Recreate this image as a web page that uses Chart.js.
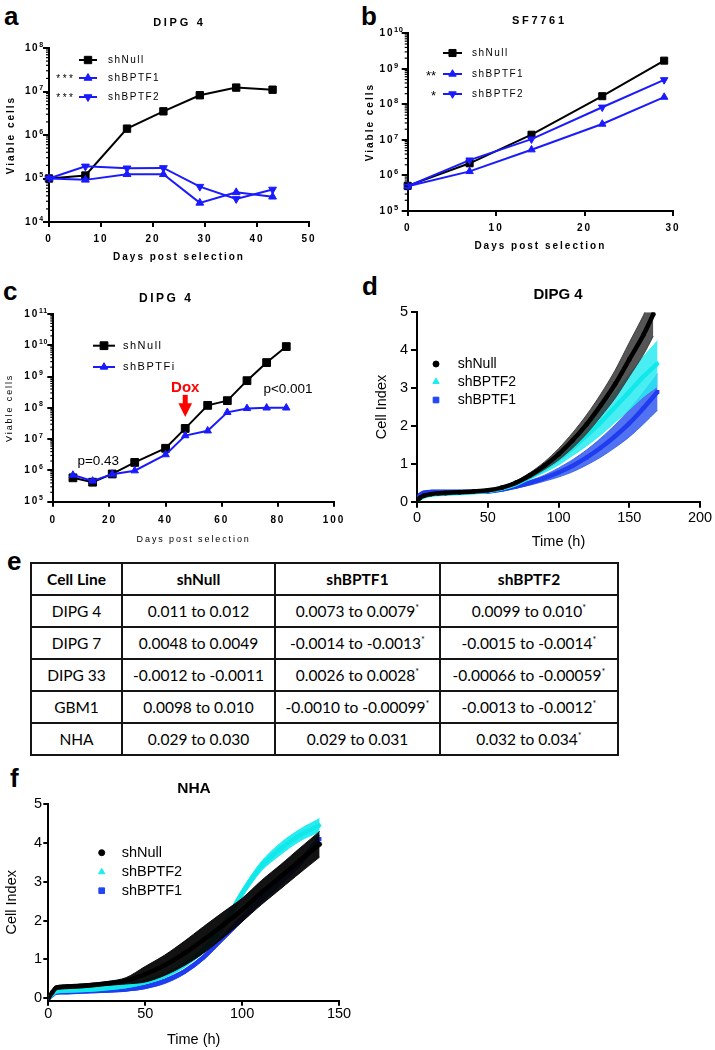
<!DOCTYPE html>
<html><head><meta charset="utf-8">
<script src="https://cdn.jsdelivr.net/npm/chart.js@4.4.1/dist/chart.umd.min.js"></script>
<style>
html,body{margin:0;padding:0;background:#fff;}
body{width:715px;height:1050px;position:relative;overflow:hidden;font-family:"Liberation Sans",Arial,sans-serif;}
canvas{position:absolute;}
.lbl{position:absolute;font:bold 26px "Liberation Sans",Arial,sans-serif;line-height:26px;color:#000;}
#tbl{position:absolute;left:30px;top:562px;border-collapse:collapse;font-family:Lato,"Liberation Sans",sans-serif;font-size:15.5px;color:#000;table-layout:fixed;}
#tbl td,#tbl th{border:2px solid #151515;text-align:center;padding:0;height:30px;white-space:nowrap;}
#tbl th{font-weight:bold;}
#tbl sup{font-size:9px;vertical-align:6px;line-height:0;}
</style></head><body>
<div class="lbl" style="left:4px;top:3px">a</div>
<div class="lbl" style="left:361px;top:3px">b</div>
<div class="lbl" style="left:3px;top:278px">c</div>
<div class="lbl" style="left:362px;top:273px">d</div>
<div class="lbl" style="left:7px;top:548px">e</div>
<div class="lbl" style="left:10px;top:765px">f</div>

<canvas id="ca" width="355" height="275" style="left:0px;top:0px"></canvas>
<canvas id="cb" width="355" height="270" style="left:360px;top:0px"></canvas>
<canvas id="cc" width="355" height="275" style="left:0px;top:280px"></canvas>
<canvas id="cd" width="355" height="275" style="left:360px;top:280px"></canvas>
<canvas id="cf" width="355" height="270" style="left:0px;top:780px"></canvas>
<table id="tbl"></table>

<script>
// ---------------- DATA ----------------
// Panel a: DIPG 4
const aDays = [0, 7, 15, 22, 29, 36, 43];
const aShNull = [1.0e5, 1.17e5, 1.4e6, 3.5e6, 8.2e6, 1.23e7, 1.1e7];
const aShBPTF1 = [1.0e5, 0.93e5, 1.25e5, 1.25e5, 2.75e4, 4.8e4, 3.8e4];
const aShBPTF2 = [1.0e5, 1.9e5, 1.72e5, 1.75e5, 6.5e4, 3.4e4, 5.6e4];
const aXTicks = [0, 10, 20, 30, 40, 50];
const aYExp = [4, 5, 6, 7, 8];

// Panel b: SF7761
const bDays = [0, 7, 14, 22, 29];
const bShNull = [5.1e5, 2.2e6, 1.4e7, 1.7e8, 1.7e9];
const bShBPTF1 = [5.0e5, 1.3e6, 5.3e6, 2.8e7, 1.6e8];
const bShBPTF2 = [5.0e5, 2.7e6, 1.05e7, 8.3e7, 4.9e8];
const bXTicks = [0, 10, 20, 30];
const bYExp = [5, 6, 7, 8, 9, 10];

// Panel c: DIPG 4 (inducible)
const cDays = [7, 14, 21, 29, 40, 47, 55, 62, 69, 76, 83];
const cShNull = [5.8e5, 4.2e5, 7.7e5, 1.8e6, 5.1e6, 2.2e7, 1.2e8, 1.7e8, 7.4e8, 2.8e9, 9.1e9];
const cShBPTFi = [7.1e5, 4.6e5, 7.6e5, 9.8e5, 3.2e6, 1.3e7, 1.85e7, 7.2e7, 9.6e7, 1.0e8, 1.0e8];
const cXTicks = [0, 20, 40, 60, 80, 100];
const cYExp = [5, 6, 7, 8, 9, 10, 11];
const cDox = {day: 47, textY: 4.3e8, arrowTop: 2.6e8, headBase: 1.4e8, tip: 5.1e7};
const cPEarly = {day: 16, y: 2.0e6, text: 'p=0.43'};
const cPLate = {day: 83.6, y: 4.0e8, text: 'p<0.001'};

// Panel d: DIPG 4 cell index (mean and error)
const dTimeNull = [0, 2, 5, 10, 15, 20, 30, 40, 50, 60, 70, 80, 90, 100, 110, 120, 130, 140, 150, 160, 167];
const dShNull = [0, 0.10, 0.16, 0.20, 0.22, 0.23, 0.25, 0.27, 0.30, 0.37, 0.50, 0.70, 0.95, 1.25, 1.62, 2.05, 2.55, 3.10, 3.75, 4.40, 4.95];
const dShNullErr = [0, 0.02, 0.02, 0.02, 0.02, 0.02, 0.02, 0.02, 0.02, 0.03, 0.05, 0.07, 0.10, 0.15, 0.20, 0.25, 0.30, 0.37, 0.45, 0.52, 0.58];
const dTime = [0, 2, 5, 10, 15, 20, 30, 40, 50, 60, 70, 80, 90, 100, 110, 120, 130, 140, 150, 160, 170];
const dShBPTF2 = [0, 0.08, 0.14, 0.18, 0.20, 0.21, 0.23, 0.25, 0.28, 0.35, 0.47, 0.65, 0.87, 1.12, 1.42, 1.75, 2.10, 2.50, 2.90, 3.30, 3.65];
const dShBPTF2Err = [0, 0.03, 0.03, 0.03, 0.03, 0.03, 0.03, 0.03, 0.04, 0.04, 0.05, 0.05, 0.10, 0.15, 0.20, 0.27, 0.33, 0.40, 0.47, 0.53, 0.60];
const dShBPTF1 = [0.02, 0.18, 0.24, 0.26, 0.26, 0.26, 0.26, 0.26, 0.27, 0.32, 0.40, 0.50, 0.62, 0.77, 0.95, 1.17, 1.43, 1.73, 2.07, 2.47, 2.90];
const dShBPTF1Err = [0.02, 0.04, 0.04, 0.04, 0.04, 0.04, 0.04, 0.04, 0.04, 0.04, 0.04, 0.06, 0.08, 0.12, 0.16, 0.20, 0.25, 0.30, 0.36, 0.42, 0.48];
const dXTicks = [0, 50, 100, 150, 200];
const dYTicks = [0, 1, 2, 3, 4, 5];

// Panel f: NHA cell index
const fTime = [0, 2, 4, 10, 20, 30, 40, 50, 60, 70, 80, 90, 100, 110, 120, 130, 140];
const fShNull = [0, 0.15, 0.27, 0.30, 0.33, 0.38, 0.45, 0.62, 0.85, 1.15, 1.50, 1.88, 2.27, 2.72, 3.13, 3.55, 3.96];
const fShNullErr = [0, 0.04, 0.05, 0.05, 0.05, 0.05, 0.08, 0.20, 0.26, 0.31, 0.34, 0.33, 0.30, 0.31, 0.31, 0.32, 0.33];
const fShBPTF2 = [0, 0.10, 0.18, 0.20, 0.22, 0.26, 0.32, 0.42, 0.58, 0.85, 1.25, 1.85, 2.70, 3.40, 3.85, 4.20, 4.45];
const fShBPTF2Err = [0, 0.03, 0.04, 0.04, 0.04, 0.04, 0.05, 0.05, 0.05, 0.05, 0.08, 0.10, 0.10, 0.12, 0.15, 0.15, 0.17];
const fShBPTF1 = [0, 0.08, 0.15, 0.16, 0.18, 0.20, 0.23, 0.30, 0.44, 0.68, 1.05, 1.55, 2.05, 2.55, 3.00, 3.50, 4.10];
const fShBPTF1Err = [0, 0.03, 0.04, 0.04, 0.04, 0.04, 0.04, 0.05, 0.06, 0.06, 0.06, 0.07, 0.08, 0.08, 0.09, 0.10, 0.10];
const fXTicks = [0, 50, 100, 150];
const fYTicks = [0, 1, 2, 3, 4, 5];

// Panel e: table
const tHeader = ['Cell Line', 'shNull', 'shBPTF1', 'shBPTF2'];
const tCellLines = ['DIPG 4', 'DIPG 7', 'DIPG 33', 'GBM1', 'NHA'];
const tShNull = ['0.011 to 0.012', '0.0048 to 0.0049', '-0.0012 to -0.0011', '0.0098 to 0.010', '0.029 to 0.030'];
const tShBPTF1 = ['0.0073 to 0.0079*', '-0.0014 to -0.0013*', '0.0026 to 0.0028*', '-0.0010 to -0.00099*', '0.029 to 0.031'];
const tShBPTF2 = ['0.0099 to 0.010*', '-0.0015 to -0.0014*', '-0.00066 to -0.00059*', '-0.0013 to -0.0012*', '0.032 to 0.034*'];

// ---------------- HELPERS ----------------
const FONT = "'Liberation Sans', Arial, Helvetica, sans-serif";
Chart.defaults.font.family = FONT;
Chart.defaults.color = '#000';
Chart.defaults.animation = false;
Chart.defaults.plugins.legend.display = false;
Chart.defaults.plugins.tooltip.enabled = false;
const BLUE = '#1a1aff';
const CYAN = '#19eef0';
const DBLUE = '#2246f2';

function xy(xs, ys) { return xs.map((x, i) => ({x: x, y: ys[i]})); }
function add(a, b, s) { return a.map((v, i) => v + s * b[i]); }

function marker(ctx, style, x, y, r, color) {
  ctx.save();
  ctx.fillStyle = color; ctx.strokeStyle = color; ctx.lineWidth = 1;
  ctx.beginPath();
  if (style === 'rect') { const h = r * Math.SQRT1_2; ctx.rect(x - h, y - h, 2 * h, 2 * h); }
  else if (style === 'circle') { ctx.arc(x, y, r, 0, Math.PI * 2); }
  else {
    let rad = style === 'triangleDown' ? Math.PI : 0;
    for (let k = 0; k < 3; k++) {
      const px = x + Math.sin(rad) * r, py = y - Math.cos(rad) * r;
      if (k === 0) ctx.moveTo(px, py); else ctx.lineTo(px, py);
      rad += 2 * Math.PI / 3;
    }
  }
  ctx.closePath(); ctx.fill(); ctx.stroke();
  ctx.restore();
}

function text(ctx, str, x, y, font, align, sp, color) {
  ctx.save();
  ctx.font = font; ctx.fillStyle = color || '#000';
  ctx.textAlign = align || 'left'; ctx.textBaseline = 'middle';
  ctx.letterSpacing = (sp || 0) + 'px';
  let dx = 0;
  if (sp && align === 'center') dx = sp / 2;
  if (sp && align === 'right') dx = sp;
  ctx.fillText(str, x + dx, y);
  ctx.restore();
}

function logLabels(chart, exps, o) {
  const ctx = chart.ctx, s = chart.scales.y;
  ctx.save();
  for (const n of exps) {
    const y = s.getPixelForValue(Math.pow(10, n));
    text(ctx, '10', o.baseRight, y, 'bold ' + o.size + 'px ' + FONT, 'right', o.sp);
    text(ctx, String(n), o.baseRight + o.gap, y - o.raise, 'bold ' + o.sup + 'px ' + FONT, 'left', 0.6);
  }
  ctx.strokeStyle = '#000'; ctx.lineWidth = 1.2;
  for (let i = 0; i < exps.length - 1; i++) {
    for (let k = 2; k <= 9; k++) {
      const y = s.getPixelForValue(k * Math.pow(10, exps[i]));
      ctx.beginPath(); ctx.moveTo(s.right - o.minor, y); ctx.lineTo(s.right, y); ctx.stroke();
    }
  }
  ctx.restore();
}

function lineLegend(ctx, items, o) {
  items.forEach((it, i) => {
    const y = o.rows[i];
    ctx.save();
    ctx.strokeStyle = it.color; ctx.lineWidth = 2;
    ctx.beginPath(); ctx.moveTo(o.x0, y); ctx.lineTo(o.x1, y); ctx.stroke();
    ctx.restore();
    marker(ctx, it.style, (o.x0 + o.x1) / 2, y, it.r, it.color);
    text(ctx, it.label, o.tx, y, o.font, 'left', o.sp);
    if (it.star) text(ctx, it.star, o.starRight, y + (o.starDy || 0), o.starFont, 'right', o.starSp);
  });
}

function pointLegend(ctx, items, o) {
  items.forEach((it, i) => {
    const y = o.rows[i];
    marker(ctx, it.style, o.mx, y, it.r, it.color);
    text(ctx, it.label, o.tx, y, o.font, 'left', 0);
  });
}

const spacingPlugin = {
  id: 'spacing',
  beforeDraw(chart) {
    const p = chart.options.plugins.spacing;
    chart.ctx.letterSpacing = ((p && p.px) || 0) + 'px';
  }
};

function geom(cv, area) {
  return {
    pad: {left: 0, top: area.t - cv.y, right: cv.x + cv.w - area.r, bottom: 0},
    yw: area.l - cv.x,
    xh: cv.y + cv.h - area.b
  };
}

function fixedTicks(list) { return function (s) { s.ticks = list.map(v => ({value: v})); }; }

function axisCommon(width, tl) {
  return {
    grid: {drawOnChartArea: false, drawTicks: true, tickLength: tl, color: '#000', lineWidth: width},
    border: {display: true, color: '#000', width: width}
  };
}

// --------------- LOG CHART (a, b, c) ---------------
function logChart(id, cvBox, area, cfg) {
  const g = geom(cvBox, area);
  return new Chart(document.getElementById(id), {
    type: 'line',
    data: {datasets: cfg.datasets},
    options: {
      responsive: false,
      layout: {padding: g.pad, autoPadding: false},
      plugins: {spacing: {px: cfg.sp}},
      scales: {
        x: Object.assign({
          type: 'linear', min: cfg.xTicks[0], max: cfg.xTicks[cfg.xTicks.length - 1],
          afterBuildTicks: fixedTicks(cfg.xTicks),
          afterFit: s => { s.height = g.xh; },
          ticks: {autoSkip: false, maxRotation: 0, padding: cfg.xPad, font: {size: 10, weight: 'bold'}},
          title: {display: true, text: 'Days post selection', padding: {top: 0, bottom: cfg.xTitlePad},
            font: cfg.xTitleFont}
        }, axisCommon(2, 5)),
        y: Object.assign({
          type: 'logarithmic', min: Math.pow(10, cfg.yExp[0]), max: Math.pow(10, cfg.yExp[cfg.yExp.length - 1]),
          afterBuildTicks: fixedTicks(cfg.yExp.map(n => Math.pow(10, n))),
          afterFit: s => { s.width = g.yw; },
          ticks: {display: false},
          title: {display: true, text: 'Viable cells', padding: {top: cfg.yTitlePad, bottom: 0},
            font: cfg.yTitleFont}
        }, axisCommon(2, 6))
      }
    },
    plugins: [spacingPlugin, {id: 'extra_' + id, afterDraw: cfg.extra}]
  });
}

function logSeries(label, xs, ys, color, style, r) {
  return {
    label: label, data: xy(xs, ys), borderColor: color, backgroundColor: color,
    borderWidth: 2, pointStyle: 'triangle', pointRotation: style === 'triangleDown' ? 180 : 0,
    pointRadius: r, pointBorderWidth: 1, pointBackgroundColor: color, pointBorderColor: color,
    tension: 0, clip: false, ...(style === 'rect' ? {pointStyle: 'rect'} : {})
  };
}

// Panel a
logChart('ca', {x: 0, y: 0, w: 355, h: 275}, {l: 49, t: 48, r: 309, b: 222}, {
  sp: 2, xTicks: aXTicks, yExp: aYExp, xPad: 6, xTitlePad: 12, yTitlePad: 5,
  xTitleFont: {size: 10, weight: 'bold'}, yTitleFont: {size: 10, weight: 'bold'},
  datasets: [
    logSeries('shBPTF2', aDays, aShBPTF2, BLUE, 'triangleDown', 4.5),
    logSeries('shBPTF1', aDays, aShBPTF1, BLUE, 'triangle', 4.5),
    logSeries('shNull', aDays, aShNull, '#000', 'rect', 5.2)
  ],
  extra(chart) {
    const ctx = chart.ctx;
    text(ctx, 'DIPG 4', 178, 23, 'bold 11px ' + FONT, 'center', 2.7);
    logLabels(chart, aYExp, {baseRight: 37.5, size: 10, sp: 1.5, gap: 1.8, sup: 7, raise: 3.4, minor: 3});
    lineLegend(ctx, [
      {label: 'shNull', color: '#000', style: 'rect', r: 5.2},
      {label: 'shBPTF1', color: BLUE, style: 'triangle', r: 4.5, star: '***'},
      {label: 'shBPTF2', color: BLUE, style: 'triangleDown', r: 4.5, star: '***'}
    ], {rows: [60, 78, 97], x0: 79, x1: 97, tx: 108, font: '10px ' + FONT, sp: 1.5,
      starRight: 73, starFont: '10px ' + FONT, starSp: 2.5, starDy: 1});
  }
});

// Panel b
logChart('cb', {x: 360, y: 0, w: 355, h: 270}, {l: 407.7, t: 33.3, r: 673, b: 211}, {
  sp: 2, xTicks: bXTicks, yExp: bYExp, xPad: 6, xTitlePad: 18, yTitlePad: 4,
  xTitleFont: {size: 10, weight: 'bold'}, yTitleFont: {size: 10, weight: 'bold'},
  datasets: [
    logSeries('shBPTF2', bDays, bShBPTF2, BLUE, 'triangleDown', 4.3),
    logSeries('shBPTF1', bDays, bShBPTF1, BLUE, 'triangle', 4.3),
    logSeries('shNull', bDays, bShNull, '#000', 'rect', 5)
  ],
  extra(chart) {
    const ctx = chart.ctx;
    text(ctx, 'SF7761', 178, 21, 'bold 11px ' + FONT, 'center', 2.7);
    logLabels(chart, bYExp, {baseRight: 32.5, size: 10, sp: 2, gap: 1.5, sup: 7.5, raise: 3.2, minor: 3});
    lineLegend(ctx, [
      {label: 'shNull', color: '#000', style: 'rect', r: 5},
      {label: 'shBPTF1', color: BLUE, style: 'triangle', r: 4.3, star: '**'},
      {label: 'shBPTF2', color: BLUE, style: 'triangleDown', r: 4.3, star: '*'}
    ], {rows: [53, 74, 94], x0: 83, x1: 102, tx: 112, font: '10px ' + FONT, sp: 1.5,
      starRight: 76, starFont: '13px ' + FONT, starSp: 0, starDy: 2});
  }
});

// Panel c
logChart('cc', {x: 0, y: 280, w: 355, h: 275}, {l: 53.3, t: 314, r: 334, b: 501.7}, {
  sp: 1.9, xTicks: cXTicks, yExp: cYExp, xPad: 8, xTitlePad: 9.6, yTitlePad: 4.6,
  xTitleFont: {size: 9, weight: 'normal'}, yTitleFont: {size: 9, weight: 'normal'},
  datasets: [
    logSeries('shBPTFi', cDays, cShBPTFi, BLUE, 'triangle', 4.3),
    logSeries('shNull', cDays, cShNull, '#000', 'rect', 5.5)
  ],
  extra(chart) {
    const ctx = chart.ctx, xs = chart.scales.x, ys = chart.scales.y;
    text(ctx, 'DIPG 4', 165, 19, 'bold 12px ' + FONT, 'center', 2.5);
    logLabels(chart, cYExp, {baseRight: 37.3, size: 10, sp: 2, gap: 1.8, sup: 7, raise: 3.4, minor: 3});
    lineLegend(ctx, [
      {label: 'shNull', color: '#000', style: 'rect', r: 5.5},
      {label: 'shBPTFi', color: BLUE, style: 'triangle', r: 4.3}
    ], {rows: [65.7, 87], x0: 93, x1: 115, tx: 123, font: '11px ' + FONT, sp: 1.5});
    // Dox annotation
    const dx = xs.getPixelForValue(cDox.day);
    text(ctx, 'Dox', dx, ys.getPixelForValue(cDox.textY), 'bold 15px ' + FONT, 'center', 0, '#ff0000');
    const yTop = ys.getPixelForValue(cDox.arrowTop), yBase = ys.getPixelForValue(cDox.headBase),
      yTip = ys.getPixelForValue(cDox.tip);
    ctx.save();
    ctx.fillStyle = '#ff0000';
    ctx.fillRect(dx - 2.5, yTop, 5, yBase - yTop + 1);
    ctx.beginPath(); ctx.moveTo(dx - 6.8, yBase); ctx.lineTo(dx + 6.8, yBase); ctx.lineTo(dx, yTip); ctx.closePath(); ctx.fill();
    ctx.restore();
    text(ctx, cPEarly.text, xs.getPixelForValue(cPEarly.day), ys.getPixelForValue(cPEarly.y), '13.5px ' + FONT, 'center', 0);
    text(ctx, cPLate.text, xs.getPixelForValue(cPLate.day), ys.getPixelForValue(cPLate.y), '13.5px ' + FONT, 'center', 0);
  }
});

// --------------- CELL INDEX CHARTS (d, f) ---------------
function bandSeries(label, xs, mean, err, color, bandColor, style, order, r) {
  return [
    {label: label + ' upper', data: xy(xs, add(mean, err, 1)), borderColor: bandColor, borderWidth: 1,
      pointRadius: 0, fill: false, order: order + 1, tension: 0.3},
    {label: label + ' lower', data: xy(xs, add(mean, err, -1)), borderColor: bandColor, borderWidth: 1,
      pointRadius: 0, fill: '-1', backgroundColor: bandColor, order: order + 1, tension: 0.3},
    {label: label, data: xy(xs, mean), borderColor: color, borderWidth: 4.5, pointRadius: r,
      pointStyle: style, pointRotation: 0, pointBackgroundColor: color, pointBorderColor: color,
      pointBorderWidth: 0, fill: false, order: order, tension: 0.3}
  ];
}

function ciChart(id, cvBox, area, cfg) {
  const g = geom(cvBox, area);
  return new Chart(document.getElementById(id), {
    type: 'line',
    data: {datasets: cfg.datasets},
    options: {
      responsive: false,
      layout: {padding: g.pad, autoPadding: false},
      plugins: {spacing: {px: 0}},
      scales: {
        x: Object.assign({
          type: 'linear', min: cfg.xTicks[0], max: cfg.xTicks[cfg.xTicks.length - 1],
          afterBuildTicks: fixedTicks(cfg.xTicks),
          afterFit: s => { s.height = g.xh; },
          ticks: {autoSkip: false, maxRotation: 0, padding: cfg.xPad, font: {size: 14.5}},
          title: {display: true, text: 'Time (h)', padding: {top: 0, bottom: cfg.xTitlePad}, font: {size: 14.5}}
        }, axisCommon(2, cfg.tl)),
        y: Object.assign({
          type: 'linear', min: cfg.yMin, max: 5,
          afterBuildTicks: fixedTicks(cfg.yTicks),
          afterFit: s => { s.width = g.yw; },
          ticks: {padding: cfg.yPad, font: {size: 14.5}},
          title: {display: true, text: 'Cell Index', padding: {top: cfg.yTitlePad, bottom: 0}, font: {size: 14.5}}
        }, axisCommon(2, cfg.tl))
      }
    },
    plugins: [spacingPlugin, {id: 'extra_' + id, afterDraw: cfg.extra}]
  });
}

// Panel d
ciChart('cd', {x: 360, y: 280, w: 355, h: 275}, {l: 417, t: 312.3, r: 700, b: 501.7}, {
  xTicks: dXTicks, yTicks: dYTicks, yMin: 0, tl: 6, xPad: 2, xTitlePad: 4.6, yPad: 3, yTitlePad: 13,
  datasets: [].concat(
    bandSeries('shBPTF1', dTime, dShBPTF1, dShBPTF1Err, '#1f3cf0', 'rgba(50,90,240,0.85)', 'rect', 7, 2.6),
    bandSeries('shBPTF2', dTime, dShBPTF2, dShBPTF2Err, '#10e8ea', 'rgba(40,235,240,0.85)', 'triangle', 4, 2.6),
    bandSeries('shNull', dTimeNull, dShNull, dShNullErr, '#000', 'rgba(55,55,55,0.85)', 'circle', 1, 2.4)
  ),
  extra(chart) {
    const ctx = chart.ctx;
    text(ctx, 'DIPG 4', 198, 15, 'bold 15px ' + FONT, 'center', 0);
    pointLegend(ctx, [
      {label: 'shNull', color: '#000', style: 'circle', r: 3},
      {label: 'shBPTF2', color: CYAN, style: 'triangle', r: 3.6},
      {label: 'shBPTF1', color: DBLUE, style: 'rect', r: 4}
    ], {rows: [84, 101.7, 120], mx: 76, tx: 97.7, font: '14px ' + FONT});
  }
});

// Panel f
ciChart('cf', {x: 0, y: 780, w: 355, h: 270}, {l: 48.3, t: 803.8, r: 339, b: 1000.7}, {
  xTicks: fXTicks, yTicks: fYTicks, yMin: -0.06, tl: 5, xPad: 0, xTitlePad: 1.3, yPad: 1.3, yTitlePad: 3.3,
  datasets: [].concat(
    bandSeries('shBPTF1', fTime, fShBPTF1, fShBPTF1Err, '#1f3cf0', 'rgba(40,80,240,0.95)', 'rect', 7, 2.6),
    bandSeries('shBPTF2', fTime, fShBPTF2, fShBPTF2Err, '#10e8ea', 'rgba(30,235,240,0.95)', 'triangle', 4, 2.6),
    bandSeries('shNull', fTime, fShNull, fShNullErr, '#000', 'rgba(5,5,5,0.95)', 'circle', 1, 2.4)
  ),
  extra(chart) {
    const ctx = chart.ctx;
    text(ctx, 'NHA', 194, 9, 'bold 15.5px ' + FONT, 'center', 0);
    pointLegend(ctx, [
      {label: 'shNull', color: '#000', style: 'circle', r: 3},
      {label: 'shBPTF2', color: CYAN, style: 'triangle', r: 3.6},
      {label: 'shBPTF1', color: DBLUE, style: 'rect', r: 4}
    ], {rows: [72.7, 92, 110.7], mx: 101.7, tx: 121.7, font: '14.5px ' + FONT});
  }
});

// --------------- TABLE (e) ---------------
(function () {
  const tbl = document.getElementById('tbl');
  const widths = [91, 153, 165, 178];
  const cg = document.createElement('colgroup');
  widths.forEach(w => { const c = document.createElement('col'); c.style.width = w + 'px'; cg.appendChild(c); });
  tbl.appendChild(cg);
  function cell(tag, str) {
    const el = document.createElement(tag);
    if (str.endsWith('*')) {
      el.textContent = str.slice(0, -1);
      const s = document.createElement('sup'); s.textContent = '*'; el.appendChild(s);
    } else el.textContent = str;
    return el;
  }
  const hr = document.createElement('tr');
  tHeader.forEach(h => hr.appendChild(cell('th', h)));
  tbl.appendChild(hr);
  tCellLines.forEach((name, i) => {
    const tr = document.createElement('tr');
    [name, tShNull[i], tShBPTF1[i], tShBPTF2[i]].forEach(v => tr.appendChild(cell('td', v)));
    tbl.appendChild(tr);
  });
})();
</script>
</body></html>
